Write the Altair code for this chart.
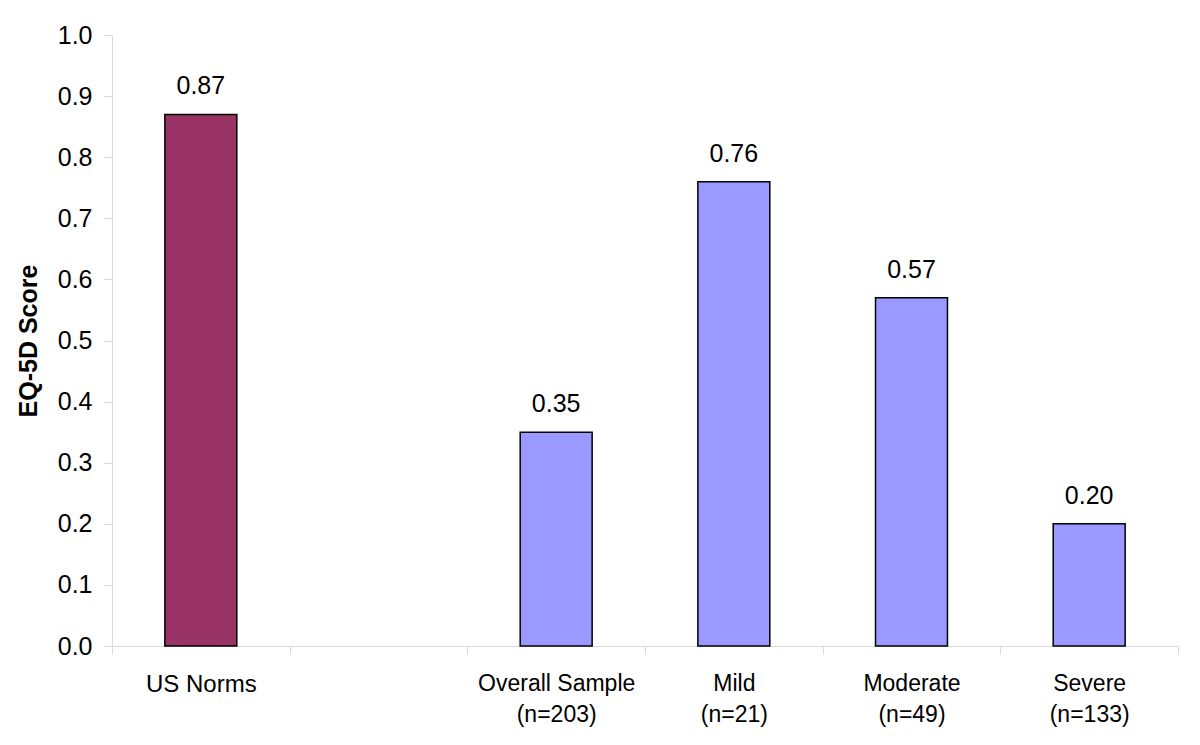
import altair as alt
import pandas as pd

keys = ["US Norms", "gap", "Overall Sample", "Mild", "Moderate", "Severe"]
labels = ["US Norms", "", "Overall Sample\n(n=203)", "Mild\n(n=21)", "Moderate\n(n=49)", "Severe\n(n=133)"]
values = [0.87, None, 0.35, 0.76, 0.57, 0.20]
groups = ["norm", "gap", "sample", "sample", "sample", "sample"]

df = pd.DataFrame({"key": keys, "label": labels, "value": values, "group": groups})
bars_df = df[df["value"].notna()]

label_map = {k: l for k, l in zip(keys, labels)}
label_expr = "{" + ", ".join(f"'{k}': {repr(l.split(chr(10)))}" for k, l in label_map.items()) + "}[datum.value]"

x = alt.X("key:N", sort=keys, scale=alt.Scale(domain=keys, paddingInner=0, paddingOuter=0),
          axis=alt.Axis(title=None, labelExpr=label_expr, tickBand="extent", labelAngle=0,
                        labelFont={"condition": {"test": "datum.value == 'US Norms'", "value": "Liberation Sans"},
                                   "value": "Liberation Sans Narrow, Liberation Sans"},
                        labelFontSize={"condition": {"test": "datum.value == 'US Norms'", "value": 24},
                                       "value": 23},
                        labelColor="black",
                        labelPadding=18, labelLineHeight=31, domainColor="#d9d9d9",
                        tickColor="#d9d9d9", tickSize=8, grid=False))
y = alt.Y("value:Q", scale=alt.Scale(domain=[0, 1.0], nice=False),
          axis=alt.Axis(title="EQ-5D Score", values=[i / 10 for i in range(11)], format=".1f",
                        labelFont="Liberation Sans", labelFontSize=25, labelColor="black",
                        labelPadding=12, titleFont="Liberation Sans", titleFontSize=25,
                        titleFontWeight="bold", titleColor="black", titlePadding=16,
                        domainColor="#d9d9d9", tickColor="#d9d9d9", tickSize=8, grid=False))

color = alt.Color("group:N", scale=alt.Scale(domain=["norm", "sample"], range=["#993366", "#9999FF"]), legend=None)

bars = alt.Chart(bars_df).mark_bar(stroke="black", strokeWidth=1.5, width=alt.RelativeBandSize(0.405)).encode(
    x=x, y=y, color=color)
text = alt.Chart(bars_df).mark_text(font="Liberation Sans", fontSize=25, baseline="alphabetic", dy=-20, color="black").encode(
    x=alt.X("key:N", sort=keys), y="value:Q", text=alt.Text("value:Q", format=".2f"))

chart = (bars + text).properties(
    width=1066, height=611,
    background="white",
    autosize=alt.AutoSizeParams(type="none"),
    padding={"left": 104, "top": 27, "right": 10, "bottom": 90},
).configure_view(stroke=None)

chart.save("out.html", embed_options={"renderer": "svg", "actions": False})
